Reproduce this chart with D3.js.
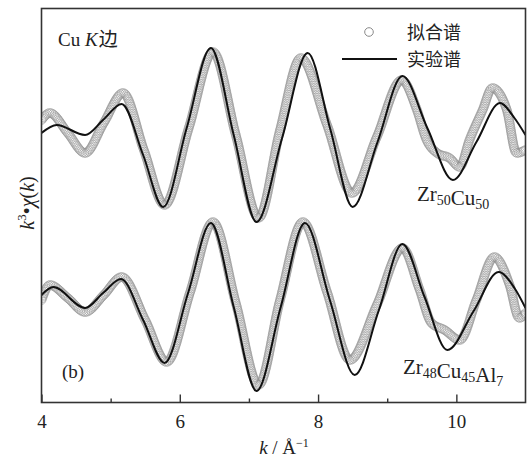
<!DOCTYPE html>
<html>
<head>
<meta charset="utf-8">
<script src="https://cdn.jsdelivr.net/npm/d3@7"></script>
<style>
  body { margin: 0; background: #fff; }
  text { font-family: "Liberation Serif", "DejaVu Serif", serif; fill: #222; }
  .cjk { font-family: "Noto Sans CJK SC", sans-serif; }
</style>
</head>
<body>
<div id="chart"></div>
<script>
// data: k (1/A) and k^3 chi(k) in arbitrary units
var kUpperExp = [4.00, 4.22, 4.63, 4.89, 5.16, 5.47, 5.76, 6.10, 6.45, 6.78, 7.11, 7.48, 7.85, 8.18, 8.50, 8.86, 9.22, 9.58, 9.95, 10.29, 10.63, 10.84, 11.00];
var vUpperExp = [-2.75, -1.95, -2.95, -1.45, 0.15, -4.95, -10.15, -2.25, 5.75, -2.95, -11.65, -3.25, 5.25, -2.45, -10.15, -3.65, 2.95, -2.25, -7.45, -3.65, 0.25, -1.25, -2.95];

var kUpperFit = [4.00, 4.12, 4.38, 4.63, 4.90, 5.18, 5.48, 5.78, 6.13, 6.48, 6.81, 7.14, 7.45, 7.75, 8.13, 8.49, 8.85, 9.21, 9.43, 9.57, 9.72, 9.90, 10.05, 10.19, 10.38, 10.52, 10.73, 10.87, 11.00];
var vUpperFit = [-1.45, -0.75, -2.75, -4.75, -1.75, 1.25, -4.45, -9.95, -2.25, 5.35, -2.95, -11.25, -2.45, 4.75, -1.95, -8.75, -3.15, 2.55, -0.45, -3.45, -4.75, -5.25, -6.15, -3.45, -0.45, 1.75, -0.45, -4.75, -4.45];

var kLowerExp = [4.00, 4.17, 4.63, 4.89, 5.15, 5.47, 5.78, 6.12, 6.45, 6.78, 7.11, 7.46, 7.81, 8.17, 8.53, 8.88, 9.22, 9.54, 9.87, 10.25, 10.61, 10.84, 11.00];
var vLowerExp = [1.05, 1.85, -0.25, 1.25, 2.65, -1.45, -5.75, 1.25, 8.25, -0.15, -8.55, -0.15, 8.25, 0.55, -6.95, -0.45, 6.15, 0.85, -4.45, -0.55, 3.35, 1.75, -0.25];

var kLowerFit = [4.00, 4.12, 4.38, 4.63, 4.90, 5.16, 5.50, 5.81, 6.15, 6.48, 6.81, 7.14, 7.45, 7.78, 8.13, 8.46, 8.85, 9.22, 9.47, 9.64, 9.83, 10.05, 10.29, 10.55, 10.77, 10.91, 11.00];
var vLowerFit = [0.55, 2.05, 0.75, -0.65, 1.05, 2.85, -1.45, -5.65, 1.35, 8.35, 0.25, -7.95, 0.55, 8.35, 1.35, -5.45, 0.05, 5.75, 1.55, -1.75, -2.45, -3.45, 0.55, 4.85, 2.05, -1.25, -0.75];

var majorTicks = [4, 6, 8, 10];
var minorTicks = [5, 7, 9];
var legendNames = ["拟合谱", "实验谱"];

// vertical offsets of the two spectra
var offsetUpper = 10;
var offsetLower = -10;

var svgwidth = 530;
var svgheight = 459;
var margin = { top: 8.5, right: 4.5, bottom: 56.5, left: 41.5 };
var width = svgwidth - margin.left - margin.right;
var height = svgheight - margin.top - margin.bottom;

var svg = d3.select("#chart").append("svg")
  .attr("width", svgwidth)
  .attr("height", svgheight);

var chartgroup = svg.append("g")
  .attr("transform", `translate(${margin.left}, ${margin.top})`);

var xscale = d3.scaleLinear().domain([4, 11]).range([0, width]);
var yscale = d3.scaleLinear().domain([-19.7, 19.7]).range([height, 0]);

svg.append("defs").append("clipPath").attr("id", "clip")
  .append("rect").attr("width", width).attr("height", height);

function zip(ks, vs, off) {
  return ks.map((k, i) => ({ k: k, v: vs[i] + off }));
}

var line = d3.line()
  .x(d => xscale(d.k))
  .y(d => yscale(d.v))
  .curve(d3.curveMonotoneX);

var plot = chartgroup.append("g").attr("clip-path", "url(#clip)");

// fitted spectra: open circles placed along the fitted curve
function drawFit(data) {
  var p = plot.append("path")
    .attr("d", line(data))
    .attr("fill", "none")
    .attr("stroke", "none");
  var node = p.node();
  var len = node.getTotalLength();
  var pts = [];
  for (var s = 0; s <= len; s += 1.8) {
    pts.push(node.getPointAtLength(s));
  }
  plot.append("g").selectAll("circle").data(pts).enter()
    .append("circle")
    .attr("cx", d => d.x)
    .attr("cy", d => d.y)
    .attr("r", 4.4)
    .attr("fill", "none")
    .attr("stroke", "#949494")
    .attr("stroke-opacity", 0.65)
    .attr("stroke-width", 0.9);
}

drawFit(zip(kUpperFit, vUpperFit, offsetUpper));
drawFit(zip(kLowerFit, vLowerFit, offsetLower));

[zip(kUpperExp, vUpperExp, offsetUpper), zip(kLowerExp, vLowerExp, offsetLower)].forEach(function(data) {
  plot.append("path")
    .attr("d", line(data))
    .attr("fill", "none")
    .attr("stroke", "#111")
    .attr("stroke-width", 2);
});

// frame
chartgroup.append("rect")
  .attr("width", width)
  .attr("height", height)
  .attr("fill", "none")
  .attr("stroke", "#333")
  .attr("stroke-width", 1.6);

// x axis, ticks pointing inward
var xaxis = d3.axisBottom(xscale).tickValues(majorTicks).tickSize(-8).tickPadding(12).tickFormat(d3.format("d"));
var xg = chartgroup.append("g")
  .attr("transform", `translate(0, ${height})`)
  .call(xaxis);
xg.select(".domain").remove();
xg.selectAll(".tick line").attr("stroke", "#333").attr("stroke-width", 1.4);
xg.selectAll(".tick text")
  .attr("font-family", "Liberation Serif")
  .attr("font-size", "19px")
  .attr("fill", "#222");

var xminor = d3.axisBottom(xscale).tickValues(minorTicks).tickSize(-4).tickFormat("");
var xm = chartgroup.append("g")
  .attr("transform", `translate(0, ${height})`)
  .call(xminor);
xm.select(".domain").remove();
xm.selectAll(".tick line").attr("stroke", "#333").attr("stroke-width", 1.4);

// axis labels
var xt = svg.append("text")
  .attr("x", 284)
  .attr("y", 454)
  .attr("text-anchor", "middle")
  .attr("font-size", "19px");
xt.append("tspan").attr("font-style", "italic").text("k");
xt.append("tspan").text(" / Å");
xt.append("tspan").attr("font-size", "12px").attr("dy", -7).text("−1");

var yt = svg.append("text")
  .attr("transform", "translate(34, 203) rotate(-90)")
  .attr("text-anchor", "middle")
  .attr("font-size", "20px");
yt.append("tspan").attr("font-style", "italic").text("k");
yt.append("tspan").attr("font-size", "13px").attr("dy", -8).text("3");
yt.append("tspan").attr("dy", 8).text("•");
yt.append("tspan").attr("font-style", "italic").text("χ");
yt.append("tspan").text("(");
yt.append("tspan").attr("font-style", "italic").text("k");
yt.append("tspan").text(")");

// annotations
var cu = svg.append("text").attr("x", 58).attr("y", 46).attr("font-size", "19px");
cu.append("tspan").text("Cu ");
cu.append("tspan").attr("font-style", "italic").text("K");
cu.append("tspan").attr("class", "cjk").attr("font-size", "19px").attr("dx", 1).text("边");

svg.append("text").attr("x", 62).attr("y", 378).attr("font-size", "19px").text("(b)");

function formula(x, y, parts) {
  var t = svg.append("text").attr("x", x).attr("y", y).attr("font-size", "21px");
  parts.forEach(function(p) {
    t.append("tspan").text(p[0]);
    if (p[1]) t.append("tspan").attr("font-size", "14px").attr("dy", 4).text(p[1]);
    if (p[1]) t.append("tspan").attr("dy", -4).text("");
  });
}
formula(417, 201, [["Zr", "50"], ["Cu", "50"]]);
formula(403, 374, [["Zr", "48"], ["Cu", "45"], ["Al", "7"]]);

// legend
svg.append("circle")
  .attr("cx", 369).attr("cy", 32).attr("r", 4.3)
  .attr("fill", "none").attr("stroke", "#8a8a8a").attr("stroke-width", 1);
svg.append("line")
  .attr("x1", 342).attr("x2", 397).attr("y1", 59).attr("y2", 59)
  .attr("stroke", "#111").attr("stroke-width", 2);
svg.selectAll(".leg").data(legendNames).enter()
  .append("text")
  .attr("class", "cjk")
  .attr("x", 407)
  .attr("y", (d, i) => 39 + i * 27)
  .attr("font-size", "18px")
  .text(d => d);
</script>
</body>
</html>
